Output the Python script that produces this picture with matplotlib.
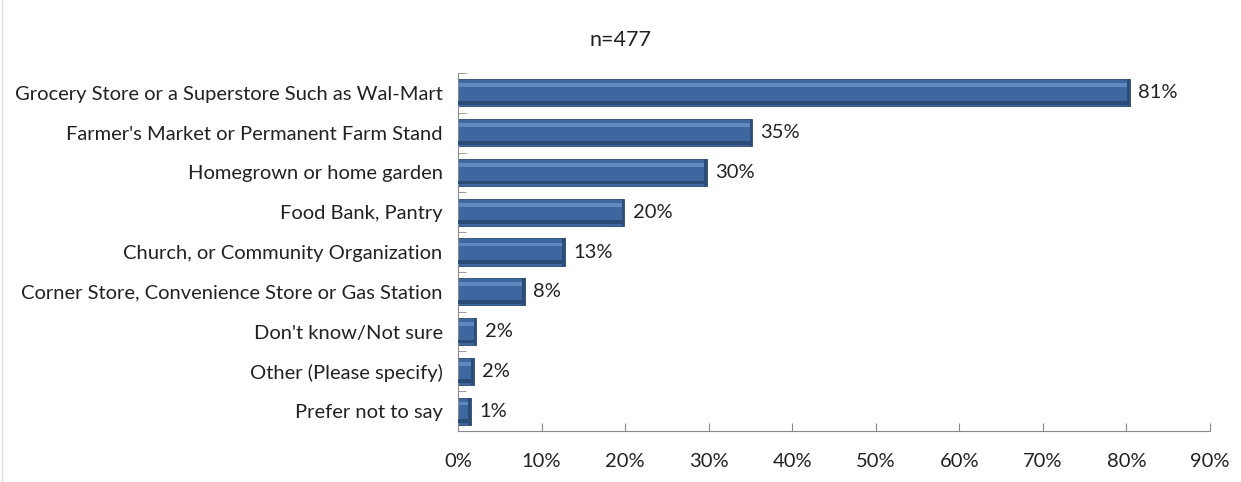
import matplotlib.pyplot as plt
import numpy as np

categories = [
    "Grocery Store or a Superstore Such as Wal-Mart",
    "Farmer's Market or Permanent Farm Stand",
    "Homegrown or home garden",
    "Food Bank, Pantry",
    "Church, or Community Organization",
    "Corner Store, Convenience Store or Gas Station",
    "Don't know/Not sure",
    "Other (Please specify)",
    "Prefer not to say",
]
values = [80.4, 35.2, 29.8, 19.9, 12.8, 8.0, 2.2, 1.9, 1.5]
labels = ["81%", "35%", "30%", "20%", "13%", "8%", "2%", "2%", "1%"]
xticks = [0, 10, 20, 30, 40, 50, 60, 70, 80, 90]

plt.rcParams['font.family'] = ['Lato', 'DejaVu Sans']
fs = 14.5

fig = plt.figure(figsize=(12.41, 4.82), dpi=100)
ax = fig.add_axes([458 / 1241, 51 / 482, 752 / 1241, 358 / 482])

y = np.arange(len(categories))[::-1]
h = 0.68
v = np.array(values)

# main bar body
ax.barh(y, v, height=h, color='#3D679E', edgecolor='#2B4770', linewidth=0.6, zorder=2)
# light bevel on top
ax.barh(y + h * 0.28, v - 0.3, left=0.15, height=h * 0.14, color='#5F89BF', linewidth=0, zorder=3)
# dark bevel at bottom
ax.barh(y - h * 0.37, v, height=h * 0.14, color='#2C4A76', linewidth=0, zorder=3)
# dark cap at right end
ax.barh(y, [0.3] * len(v), left=v - 0.3, height=h, color='#2E4C78', linewidth=0, zorder=3)

for yi, vi, lab in zip(y, v, labels):
    ax.text(vi + 1.0, yi, lab, va='center', ha='left', fontsize=fs, color='#222222')

ax.set_xlim(0, 90)
ax.set_ylim(-0.5, len(categories) - 0.5)
ax.set_xticks(xticks)
ax.set_xticklabels([f"{t}%" for t in xticks], fontsize=fs, color='#222222')
ax.set_yticks(y)
ax.set_yticklabels(categories, fontsize=fs, color='#222222')
ax.set_yticks(np.arange(len(categories) + 1) - 0.5, minor=True)

ax.tick_params(axis='y', which='major', length=0, pad=11)
ax.tick_params(axis='y', which='minor', direction='in', length=6, color='#888888')
ax.tick_params(axis='x', direction='in', length=6, color='#888888', pad=16)

for s in ['top', 'right']:
    ax.spines[s].set_visible(False)
for s in ['left', 'bottom']:
    ax.spines[s].set_color('#888888')

fig.text(0.5, 1 - 40 / 482, "n=477", ha='center', va='center', fontsize=fs + 1, color='#222222')

fig.add_artist(plt.Line2D([2 / 1241, 2 / 1241], [0, 1], color='#dddddd', linewidth=1))

fig.savefig('out.png', dpi=100)
